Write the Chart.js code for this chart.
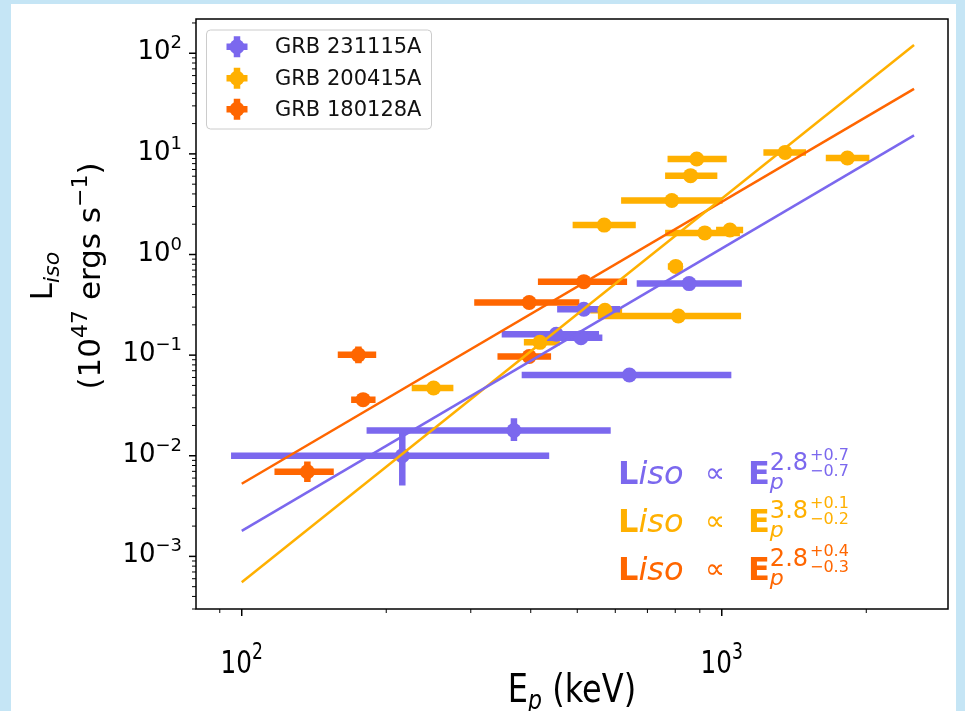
<!DOCTYPE html>
<html>
<head>
<meta charset="utf-8">
<script src="https://cdn.jsdelivr.net/npm/chart.js@4.4.1/dist/chart.umd.min.js"></script>
<style>
  html, body { margin: 0; padding: 0; background: #c5e5f5; }
</style>
</head>
<body>
<canvas id="chart" width="965" height="711"></canvas>
<script>
// GRB 231115A
const purpleEp   = [216, 369, 642, 452, 509, 516, 855];
const purpleEpLo = [95, 182, 383, 348, 428, 454, 665];
const purpleEpHi = [437, 587, 1047, 555, 564, 614, 1101];
const purpleL    = [0.0100, 0.0178, 0.0634, 0.1615, 0.149, 0.286, 0.514];
const purpleLLo  = [0.00507, 0.0140, 0.058, 0.152, 0.141, 0.272, 0.49];
const purpleLHi  = [0.0169, 0.0236, 0.069, 0.171, 0.157, 0.30, 0.54];

// GRB 200415A
const amberEp   = [251, 418, 571, 812, 802, 569, 787, 922, 1040, 861, 887, 1355, 1827];
const amberEpLo = [226, 387, 532, 552, 772, 489, 617, 762, 973, 762, 771, 1221, 1647];
const amberEpHi = [276, 460, 620, 1097, 830, 662, 1004, 1091, 1108, 979, 1024, 1498, 2030];
const amberL    = [0.0471, 0.134, 0.279, 0.245, 0.762, 1.96, 3.44, 1.64, 1.75, 6.08, 8.90, 10.35, 9.11];
const amberLLo  = [0.045, 0.127, 0.265, 0.233, 0.68, 1.86, 3.27, 1.56, 1.66, 5.78, 8.46, 9.83, 8.65];
const amberLHi  = [0.0495, 0.141, 0.293, 0.257, 0.86, 2.06, 3.61, 1.72, 1.84, 6.38, 9.35, 10.9, 9.57];

// GRB 180128A
const orangeEp   = [137, 175, 179, 397, 397, 516];
const orangeEpLo = [117, 158.5, 169, 341, 305, 414];
const orangeEpHi = [155.5, 190.6, 190, 441, 505, 635];
const orangeL    = [0.00693, 0.1007, 0.0361, 0.097, 0.333, 0.5375];
const orangeLLo  = [0.0055, 0.083, 0.033, 0.092, 0.318, 0.512];
const orangeLHi  = [0.00877, 0.122, 0.0395, 0.102, 0.349, 0.565];

// power-law fit lines, end points
const fitEp     = [100, 2515];
const fitPurple = [0.00179, 15.25];
const fitAmber  = [0.000554, 120.8];
const fitOrange = [0.00527, 44.3];

const seriesNames = ['GRB 231115A', 'GRB 200415A', 'GRB 180128A'];
const fitIndex    = ['2.8', '3.8', '2.8'];
const fitErrUp    = ['+0.7', '+0.1', '+0.4'];
const fitErrDown  = ['\u22120.7', '\u22120.2', '\u22120.3'];

const xMajorTicks = [100, 1000];
const xTickExps   = ['2', '3'];
const yMajorTicks = [1e-3, 1e-2, 1e-1, 1, 10, 100];
const yTickExps   = ['\u22123', '\u22122', '\u22121', '0', '1', '2'];

const PURPLE = '#7b68ee', AMBER = '#ffb000', ORANGE = '#ff6600';
const FONT = '"DejaVu Sans"';

const series = [
  { color: PURPLE, ep: purpleEp, epLo: purpleEpLo, epHi: purpleEpHi, l: purpleL, lLo: purpleLLo, lHi: purpleLHi },
  { color: AMBER, ep: amberEp, epLo: amberEpLo, epHi: amberEpHi, l: amberL, lLo: amberLLo, lHi: amberLHi },
  { color: ORANGE, ep: orangeEp, epLo: orangeEpLo, epHi: orangeEpHi, l: orangeL, lLo: orangeLLo, lHi: orangeLHi },
];

function toPoints(xs, ys) {
  return xs.map((v, i) => ({ x: v, y: ys[i] }));
}

function drawPow(ctx, x, y, exp, size, supSize, align) {
  ctx.font = size + 'px ' + FONT;
  const wb = ctx.measureText('10').width;
  ctx.font = supSize + 'px ' + FONT;
  const ws = ctx.measureText(exp).width;
  let x0 = x;
  if (align === 'right') x0 = x - wb - ws;
  if (align === 'center') x0 = x - (wb + ws) / 2;
  ctx.textAlign = 'left';
  ctx.textBaseline = 'alphabetic';
  ctx.font = size + 'px ' + FONT;
  ctx.fillText('10', x0, y);
  ctx.font = supSize + 'px ' + FONT;
  ctx.fillText(exp, x0 + wb, y - size * 0.42);
}

// draws a list of [text, font, dy] pieces one after another, returns width
function drawRun(ctx, pieces, x, y, measureOnly) {
  let cx = x;
  pieces.forEach(p => {
    ctx.font = p[1];
    if (!measureOnly) ctx.fillText(p[0], cx, y + (p[2] || 0));
    cx += ctx.measureText(p[0]).width;
  });
  return cx - x;
}

const decor = {
  id: 'decor',
  beforeDraw(chart) {
    const ctx = chart.ctx;
    ctx.save();
    ctx.fillStyle = '#c5e5f5';
    ctx.fillRect(0, 0, chart.width, chart.height);
    ctx.fillStyle = '#ffffff';
    ctx.fillRect(11, 4, 945, 707);
    ctx.restore();
  },
  beforeDatasetsDraw(chart) {
    const { ctx, chartArea: a, scales: { x, y } } = chart;
    ctx.save();
    ctx.beginPath();
    ctx.rect(a.left, a.top, a.right - a.left, a.bottom - a.top);
    ctx.clip();
    ctx.lineWidth = 6.5;
    ctx.lineCap = 'butt';
    series.slice().reverse().forEach(s => {
      ctx.strokeStyle = s.color;
      s.ep.forEach((e, i) => {
        const px = x.getPixelForValue(e);
        const py = y.getPixelForValue(s.l[i]);
        ctx.beginPath();
        ctx.moveTo(x.getPixelForValue(s.epLo[i]), py);
        ctx.lineTo(x.getPixelForValue(s.epHi[i]), py);
        ctx.moveTo(px, y.getPixelForValue(s.lLo[i]));
        ctx.lineTo(px, y.getPixelForValue(s.lHi[i]));
        ctx.stroke();
      });
    });
    ctx.restore();
  },
  afterDraw(chart) {
    const { ctx, chartArea: a, scales: { x, y } } = chart;
    ctx.save();
    ctx.fillStyle = '#000';
    ctx.strokeStyle = '#000';

    // frame
    ctx.lineWidth = 1.5;
    ctx.strokeRect(a.left, a.top, a.right - a.left, a.bottom - a.top);

    // x ticks
    for (let d = 1; d <= 3; d++) {
      for (let m = 1; m <= 9; m++) {
        const v = m * Math.pow(10, d);
        if (v < x.min || v > x.max) continue;
        const px = x.getPixelForValue(v);
        ctx.lineWidth = m === 1 ? 1.5 : 1;
        ctx.beginPath();
        ctx.moveTo(px, a.bottom);
        ctx.lineTo(px, a.bottom + (m === 1 ? 7 : 4));
        ctx.stroke();
      }
    }
    // y ticks
    for (let d = -4; d <= 2; d++) {
      for (let m = 1; m <= 9; m++) {
        const v = m * Math.pow(10, d);
        if (v < y.min || v > y.max) continue;
        const py = y.getPixelForValue(v);
        ctx.lineWidth = m === 1 ? 1.5 : 1;
        ctx.beginPath();
        ctx.moveTo(a.left, py);
        ctx.lineTo(a.left - (m === 1 ? 7 : 4), py);
        ctx.stroke();
      }
    }

    // tick labels (the bottom strip of the original is a little stretched)
    xMajorTicks.forEach((v, i) => {
      ctx.save();
      ctx.translate(x.getPixelForValue(v), 673);
      ctx.scale(0.95, 1.25);
      drawPow(ctx, 0, 0, xTickExps[i], 26, 18, 'center');
      ctx.restore();
    });
    yMajorTicks.forEach((v, i) => {
      drawPow(ctx, a.left - 14, y.getPixelForValue(v) + 6, yTickExps[i], 26, 18, 'right');
    });

    // x title
    ctx.textAlign = 'left';
    ctx.textBaseline = 'alphabetic';
    const xt = [['E', '32px ' + FONT], ['p', 'italic 22px ' + FONT, 6], [' (keV)', '32px ' + FONT]];
    const wx = drawRun(ctx, xt, 0, 0, true);
    ctx.save();
    ctx.translate((a.left + a.right) / 2, 702);
    ctx.scale(1, 1.2);
    drawRun(ctx, xt, -wx / 2, 0);
    ctx.restore();

    // y title, two lines rotated
    const l1 = [['L', '31px ' + FONT], ['iso', 'italic 22px ' + FONT, 7]];
    const l2 = [['(10', '31px ' + FONT], ['47', '22px ' + FONT, -13], [' ergs s', '31px ' + FONT], ['\u22121', '22px ' + FONT, -13], [')', '31px ' + FONT]];
    ctx.save();
    ctx.translate(52, 276);
    ctx.rotate(-Math.PI / 2);
    drawRun(ctx, l1, -drawRun(ctx, l1, 0, 0, true) / 2, 0);
    ctx.restore();
    ctx.save();
    ctx.translate(100, 276);
    ctx.rotate(-Math.PI / 2);
    drawRun(ctx, l2, -drawRun(ctx, l2, 0, 0, true) / 2, 0);
    ctx.restore();

    // legend
    const lg = { x: 206.5, y: 30, w: 225, h: 99 };
    ctx.beginPath();
    ctx.roundRect(lg.x, lg.y, lg.w, lg.h, 4);
    ctx.fillStyle = 'rgba(255,255,255,0.8)';
    ctx.fill();
    ctx.lineWidth = 1;
    ctx.strokeStyle = '#cccccc';
    ctx.stroke();
    const rowY = [46.7, 78.3, 109.3];
    series.forEach((s, i) => {
      const cx = 237, cy = rowY[i];
      ctx.strokeStyle = s.color;
      ctx.fillStyle = s.color;
      ctx.lineWidth = 6.5;
      ctx.beginPath();
      ctx.moveTo(cx - 10.5, cy); ctx.lineTo(cx + 10.5, cy);
      ctx.moveTo(cx, cy - 10.5); ctx.lineTo(cx, cy + 10.5);
      ctx.stroke();
      ctx.beginPath();
      ctx.arc(cx, cy, 7.5, 0, Math.PI * 2);
      ctx.fill();
      ctx.fillStyle = '#111';
      ctx.font = '21px ' + FONT;
      ctx.textBaseline = 'middle';
      ctx.fillText(seriesNames[i], 275, cy + 1);
    });

    // fit relations
    ctx.textBaseline = 'alphabetic';
    const base = [484.3, 532.3, 580];
    series.forEach((s, i) => {
      const by = base[i];
      ctx.fillStyle = s.color;
      ctx.font = 'bold 32px ' + FONT;
      ctx.fillText('L', 618, by);
      const wl = ctx.measureText('L').width;
      ctx.font = 'italic 32px ' + FONT;
      ctx.fillText('iso', 618 + wl, by);
      ctx.font = '28px ' + FONT;
      ctx.fillText('\u221d', 705, by - 2);
      ctx.font = 'bold 32px ' + FONT;
      ctx.fillText('E', 748, by);
      const we = ctx.measureText('E').width;
      ctx.font = 'italic 22px ' + FONT;
      ctx.fillText('p', 748 + we, by + 4.5);
      ctx.font = '24px ' + FONT;
      ctx.fillText(fitIndex[i], 748 + we, by - 14.5);
      const wi = ctx.measureText(fitIndex[i]).width;
      ctx.font = '16px ' + FONT;
      ctx.fillText(fitErrUp[i], 748 + we + wi + 2, by - 24);
      ctx.fillText(fitErrDown[i], 748 + we + wi + 2, by - 8);
    });
    ctx.restore();
  }
};

const pointSet = (label, xs, ys, color) => ({
  label: label,
  data: toPoints(xs, ys),
  backgroundColor: color,
  borderWidth: 0,
  pointRadius: 7.5,
  pointHoverRadius: 7.5,
  showLine: false,
  order: 2,
});

const fitSet = (label, ys, color) => ({
  label: label,
  data: toPoints(fitEp, ys),
  borderColor: color,
  borderWidth: 2.5,
  pointRadius: 0,
  showLine: true,
  fill: false,
  order: 1,
});

const config = {
  type: 'scatter',
  data: {
    datasets: [
      pointSet(seriesNames[0], purpleEp, purpleL, PURPLE),
      pointSet(seriesNames[1], amberEp, amberL, AMBER),
      pointSet(seriesNames[2], orangeEp, orangeL, ORANGE),
      fitSet('fit 231115A', fitPurple, PURPLE),
      fitSet('fit 200415A', fitAmber, AMBER),
      fitSet('fit 180128A', fitOrange, ORANGE),
    ],
  },
  options: {
    responsive: false,
    animation: false,
    layout: { padding: { left: 196, right: 17, top: 19, bottom: 102 } },
    plugins: { legend: { display: false }, tooltip: { enabled: false } },
    scales: {
      x: { type: 'logarithmic', min: 80.3, max: 2960, display: false },
      y: { type: 'logarithmic', min: 3.08e-4, max: 219, display: false },
    },
  },
  plugins: [decor],
};

new Chart(document.getElementById('chart'), config);
</script>
</body>
</html>
